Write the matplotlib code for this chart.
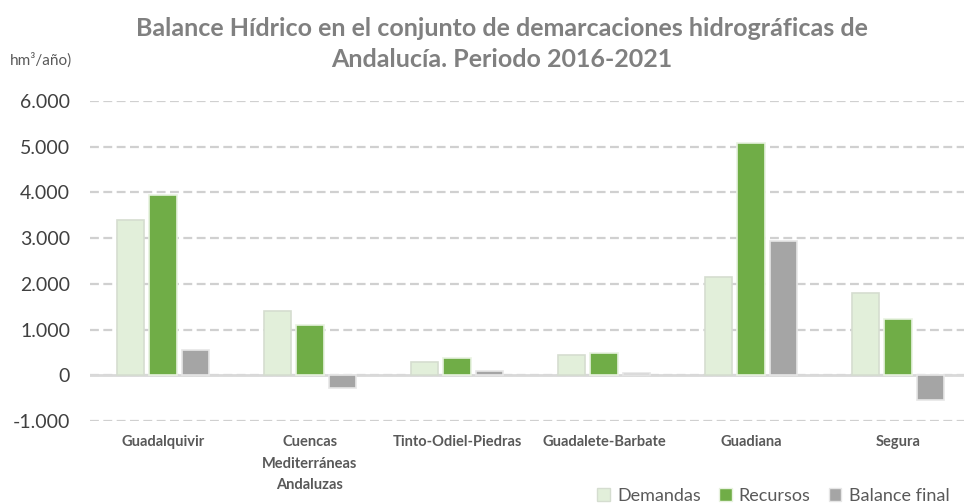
import numpy as np
import matplotlib.pyplot as plt
from matplotlib.patches import Patch
from matplotlib.ticker import FuncFormatter

# Balance hídrico por demarcación (hm³/año)
demarcaciones = ['Guadalquivir', 'Cuencas\nMediterráneas\nAndaluzas', 'Tinto-Odiel-Piedras',
                 'Guadalete-Barbate', 'Guadiana', 'Segura']
demandas = [3400, 1400, 290, 440, 2140, 1790]
recursos = [3950, 1100, 370, 480, 5090, 1240]
balance_final = [560, -270, 100, 50, 2940, -530]

series_names = ['Demandas', 'Recursos', 'Balance final']
colores = ['#E2EFDA', '#70AD47', '#A5A5A5']
bordes = ['#D5DDD0', '#E8F2E0', '#E6E6E6']

plt.rcParams['font.family'] = ['Lato', 'DejaVu Sans']

fig = plt.figure(figsize=(9.64, 5.04), dpi=100)
ax = fig.add_axes([89.5 / 964, 83 / 504, 882 / 964, 320 / 504])

x = np.arange(len(demarcaciones))
ancho = 0.185
paso = 0.222
for i, (vals, c, b) in enumerate(zip([demandas, recursos, balance_final], colores, bordes)):
    ax.bar(x + (i - 1) * paso, vals, width=ancho, color=c, edgecolor=b, linewidth=1.2, zorder=3)

ax.set_xlim(-0.5, len(demarcaciones) - 0.5)
ax.set_ylim(-1000, 6000)
ax.set_yticks(np.arange(-1000, 6001, 1000))
ax.yaxis.set_major_formatter(FuncFormatter(lambda v, p: f'{int(v):,}'.replace(',', '.')))

ax.grid(axis='y', color='#D0D0D0', linestyle=(0, (4, 2)), linewidth=1.6, zorder=0)
ax.axhline(0, color='#D9D9D9', linewidth=2, zorder=2)
for s in ax.spines.values():
    s.set_visible(False)

ax.set_xticks(x)
ax.set_xticklabels(demarcaciones, fontsize=10.5, fontweight='bold', color='#595959', linespacing=1.7)
ax.tick_params(axis='x', length=0, pad=10)
ax.tick_params(axis='y', length=0, pad=14, labelsize=14, labelcolor='#404040')

fig.text(0.521, 1 - 44 / 504, 'Balance Hídrico en el conjunto de demarcaciones hidrográficas de\nAndalucía. Periodo 2016-2021',
         ha='center', va='center', fontsize=18, fontweight='bold', color='#808080', linespacing=1.45)
fig.text(10 / 964, 1 - 60 / 504, 'hm³/año)', ha='left', va='center', fontsize=11, color='#595959')

handles = [Patch(facecolor=c, edgecolor=b) for c, b in zip(colores, bordes)]
fig.legend(handles, series_names, loc='center left', bbox_to_anchor=(590 / 964, 1 - 496 / 504),
           ncol=3, frameon=False, fontsize=13, handlelength=0.7, handleheight=0.7,
           handletextpad=0.4, columnspacing=1.0, labelcolor='#595959', borderaxespad=0)

fig.savefig('out.png', dpi=100)
